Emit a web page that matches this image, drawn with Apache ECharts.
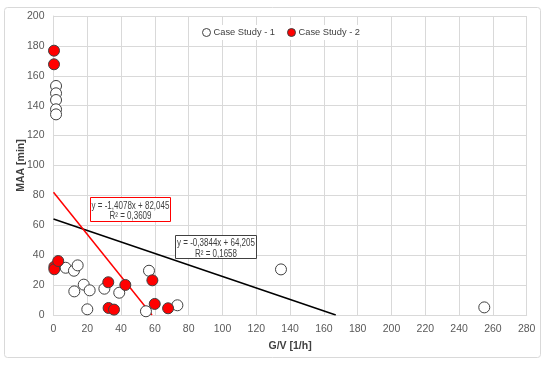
<!DOCTYPE html>
<html>
<head>
<meta charset="utf-8">
<script src="https://cdn.jsdelivr.net/npm/echarts@6/dist/echarts.min.js"></script>
<style>html,body{margin:0;padding:0;background:#fff;}#c{width:550px;height:366px;}</style>
</head>
<body>
<div id="c"></div>
<script>
// Case Study - 1 (open circles): [G/V, MAA]
const case1X = [1.5, 1.5, 1.5, 1.5, 1.5, 7.2, 12.1, 14.3, 17.9, 21.4, 12.3, 20.0, 30.1, 38.9, 56.5, 54.7, 73.3, 134.6, 254.9];
const case1Y = [153.2, 148.3, 143.8, 137.6, 134.2, 31.6, 29.6, 33.2, 20.3, 16.5, 15.8, 3.8, 17.6, 14.9, 29.6, 2.5, 6.5, 30.5, 5.1];
// Case Study - 2 (red filled circles)
const case2X = [0.3, 0.3, 0.5, 0.5, 2.8, 32.4, 32.6, 35.8, 42.5, 58.5, 59.9, 67.8];
const case2Y = [176.8, 167.7, 32.3, 30.6, 36.1, 21.9, 4.7, 3.6, 20.1, 23.2, 7.4, 4.5];
// Linear trendlines (as printed on the chart)
const trend1 = { slope: -0.3844, intercept: 64.205, r2: '0,1658', label: 'y = -0,3844x + 64,205' };
const trend2 = { slope: -1.4078, intercept: 82.045, r2: '0,3609', label: 'y = -1,4078x + 82,045' };
const seriesNames = ['Case Study - 1', 'Case Study - 2'];
const xTitle = 'G/V [1/h]';
const yTitle = 'MAA [min]';

const zip = (xs, ys) => xs.map((x, i) => [x, ys[i]]);
const trendLine = t => [[0, t.intercept], [-t.intercept / t.slope, 0]];

const FONT = 'Liberation Sans';
const chart = echarts.init(document.getElementById('c'), null, { renderer: 'canvas' });
chart.setOption({
  animation: false,
  backgroundColor: '#fff',
  textStyle: { fontFamily: FONT },
  grid: { left: 53.5, right: 23.3, top: 16, bottom: 51 },
  legend: {
    data: [
      { name: seriesNames[0], icon: 'circle', itemStyle: { color: '#fff', borderColor: '#404040', borderWidth: 1 } },
      { name: seriesNames[1], icon: 'circle', itemStyle: { color: '#ff0000', borderColor: '#404040', borderWidth: 1 } }
    ],
    left: 198, top: 25,
    itemWidth: 8, itemHeight: 8, itemGap: 12,
    backgroundColor: '#fff',
    padding: [3, 4, 3, 4],
    textStyle: { fontFamily: FONT, fontSize: 9.3, color: '#404040', padding: [0, 0, 0, -2] }
  },
  xAxis: {
    type: 'value', min: 0, max: 280, interval: 20,
    name: xTitle, nameLocation: 'middle', nameGap: 26, nameMoveOverlap: false,
    nameTextStyle: { fontFamily: FONT, fontSize: 10.5, fontWeight: 'bold', color: '#404040' },
    axisLine: { show: true, lineStyle: { color: '#d9d9d9' } },
    axisTick: { show: false },
    axisLabel: { fontFamily: FONT, fontSize: 10.5, color: '#595959', margin: 9 },
    splitLine: { lineStyle: { color: '#d9d9d9' } }
  },
  yAxis: {
    type: 'value', min: 0, max: 200, interval: 20,
    name: yTitle, nameLocation: 'middle', nameGap: 27, nameMoveOverlap: false,
    nameTextStyle: { fontFamily: FONT, fontSize: 10.5, fontWeight: 'bold', color: '#404040' },
    axisLine: { show: true, lineStyle: { color: '#d9d9d9' } },
    axisTick: { show: false },
    axisLabel: { fontFamily: FONT, fontSize: 10.5, color: '#595959', margin: 9 },
    splitLine: { lineStyle: { color: '#d9d9d9' } }
  },
  graphic: [
    { type: 'rect', shape: { x: 4.5, y: 7.5, width: 536, height: 350, r: 3 }, style: { fill: 'none', stroke: '#d9d9d9', lineWidth: 1 }, z: 0, silent: true },
    { type: 'rect', zlevel: 1, shape: { x: 90.5, y: 197.5, width: 80, height: 24 }, style: { fill: '#ffffff', stroke: '#ff0000', lineWidth: 1 } },
    { type: 'text', zlevel: 1, z: 101, x: 130.5, y: 200.5, scaleX: 0.8, style: { text: trend2.label + '\nR² = ' + trend2.r2, align: 'center', fontFamily: FONT, fontSize: 10, lineHeight: 10.5, fill: '#404040' } },
    { type: 'rect', zlevel: 1, shape: { x: 175.5, y: 235.5, width: 81, height: 23 }, style: { fill: '#ffffff', stroke: '#404040', lineWidth: 1 } },
    { type: 'text', zlevel: 1, z: 101, x: 216, y: 238, scaleX: 0.8, style: { text: trend1.label + '\nR² = ' + trend1.r2, align: 'center', fontFamily: FONT, fontSize: 10, lineHeight: 10.5, fill: '#404040' } }
  ],
  series: [
    { name: 'trend1', type: 'line', data: trendLine(trend1), symbol: 'none', lineStyle: { color: '#000', width: 1.5 }, z: 3, silent: true },
    { name: 'trend2', type: 'line', data: trendLine(trend2), symbol: 'none', lineStyle: { color: '#ff0000', width: 1.5 }, z: 3, silent: true },
    { name: seriesNames[0], type: 'scatter', data: zip(case1X, case1Y), symbol: 'circle', symbolSize: 11,
      itemStyle: { color: '#fff', borderColor: '#404040', borderWidth: 1, opacity: 1 }, z: 4 },
    { name: seriesNames[1], type: 'scatter', data: zip(case2X, case2Y), symbol: 'circle', symbolSize: 11,
      itemStyle: { color: '#ff0000', borderColor: '#404040', borderWidth: 1, opacity: 1 }, z: 5 }
  ]
});
</script>
</body>
</html>
